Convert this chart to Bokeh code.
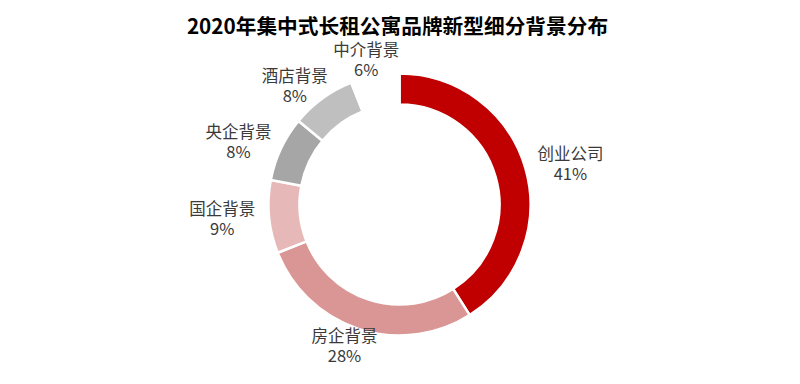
import math
from bokeh.plotting import figure
from bokeh.models import Range1d, Label, ColumnDataSource
from bokeh.core.properties import value
from bokeh.embed import file_html
from bokeh.resources import INLINE

title_text = "2020年集中式长租公寓品牌新型细分背景分布"
categories = ["创业公司", "房企背景", "国企背景", "央企背景", "酒店背景", "中介背景"]
shares = [41, 28, 9, 8, 8, 6]
colors = ["#C00000", "#D99694", "#E6B9B8", "#A6A6A6", "#BFBFBF", "#FFFFFF"]

W, H = 784, 368
p = figure(width=W, height=H, output_backend="svg", toolbar_location=None,
           x_range=Range1d(0, W), y_range=Range1d(0, H), min_border=0)
p.axis.visible = False
p.grid.visible = False
p.outline_line_color = None
p.background_fill_color = "white"
p.border_fill_color = "white"

cx, cy = 399, 164
r_out, r_in = 131, 100
total = float(sum(shares))

starts, ends, lx, ly, cats, pcts = [], [], [], [], [], []
cum = 0.0
R0, hw, hh = 136, 42, 12
for cat, s in zip(categories, shares):
    c0 = cum / total
    cum += s
    c1 = cum / total
    starts.append(math.pi / 2 - 2 * math.pi * c0)
    ends.append(math.pi / 2 - 2 * math.pi * c1)
    th = 2 * math.pi * (c0 + c1) / 2
    ux, uy = math.sin(th), math.cos(th)
    lx.append(cx + R0 * ux + hw * ux)
    ly.append(cy + R0 * uy + hh * uy)
    cats.append(cat)
    pcts.append(f"{s}%")

src = ColumnDataSource(dict(start=starts, end=ends, color=colors,
                            lx=lx, ly=ly, cat=cats, pct=pcts))
p.annular_wedge(x=cx, y=cy, inner_radius=r_in, outer_radius=r_out,
                start_angle="start", end_angle="end", direction="clock",
                fill_color="color", line_color="white", line_width=2.5, source=src)

common = dict(source=src, text_align="center", text_baseline="middle",
              text_font=value("Noto Sans CJK SC"), text_font_size="16.5px",
              text_color="#3A3A3A")
p.text(x="lx", y="ly", text="cat", y_offset=-10, **common)
p.text(x="lx", y="ly", text="pct", y_offset=10, **common)

title = Label(x=397, y=344, x_units="screen", y_units="screen",
              text=title_text, text_align="center", text_baseline="middle",
              text_font="Noto Sans CJK SC", text_font_size="20.7px",
              text_font_style="bold", text_color="#000000")
p.add_layout(title)

open("out.html", "w").write(file_html(p, INLINE))
